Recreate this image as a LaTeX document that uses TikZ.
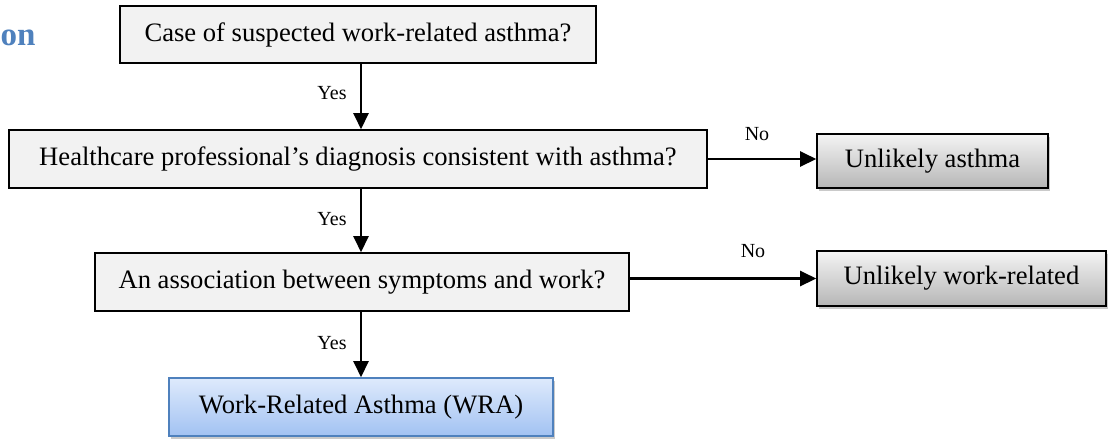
\documentclass[tikz,border=0pt]{standalone}
\usepackage{fontspec}
\setmainfont{Liberation Serif}
\usetikzlibrary{arrows.meta,shadows}
\definecolor{titleblue}{RGB}{79,129,189}
\definecolor{qfill}{RGB}{242,242,242}
\definecolor{gtop}{RGB}{244,244,244}
\definecolor{gbot}{RGB}{182,182,182}
\definecolor{btop}{RGB}{222,234,252}
\definecolor{bbot}{RGB}{162,194,242}
\definecolor{bedge}{RGB}{79,129,189}
\tikzset{
  qbox/.style={draw=black, line width=1.6pt, fill=qfill, inner sep=0pt,
    font=\fontsize{26.6}{30}\selectfont},
  outbox/.style={draw=black, line width=1.6pt, top color=gtop, bottom color=gbot,
    inner sep=0pt, font=\fontsize{26.6}{30}\selectfont,
    drop shadow={shadow xshift=2pt, shadow yshift=-3pt, opacity=0.35, fill=black!60}},
  wrabox/.style={draw=bedge, line width=1.6pt, top color=btop, bottom color=bbot,
    inner sep=0pt, font=\fontsize{26.6}{30}\selectfont,
    drop shadow={shadow xshift=2pt, shadow yshift=-3pt, opacity=0.35, fill=black!60}},
  arr/.style={line width=2.4pt, -{Triangle[width=15pt,length=16pt]}},
  lbl/.style={font=\fontsize{20}{22}\selectfont, inner sep=0pt}
}
\begin{document}
\begin{tikzpicture}[x=1pt,y=-1pt]
\useasboundingbox (0,0) rectangle (1115,440);
\node[anchor=base west, inner sep=0pt, text=titleblue,
  font=\fontsize{33}{35}\selectfont\bfseries] (title) at (0.5,45) {on};

\node[qbox, minimum width=476pt, minimum height=57pt] (b1) at (358,34.5) {Case of suspected work-related asthma?};
\node[qbox, minimum width=698pt, minimum height=58pt] (b2) at (358,159) {Healthcare professional’s diagnosis consistent with asthma?};
\node[qbox, minimum width=534pt, minimum height=58pt] (b3) at (362,282) {An association between symptoms and work?};
\node[wrabox, minimum width=384pt, minimum height=58pt] (wra) at (361,407) {Work-Related Asthma (WRA)};
\node[outbox, minimum width=231pt, minimum height=54pt] (ua) at (932.5,161) {Unlikely asthma};
\node[outbox, minimum width=289pt, minimum height=55pt] (uw) at (961.5,278.5) {Unlikely work-related};

\draw[arr] (b1.south -| wra.north) -- (b2.north -| wra.north);
\draw[arr] (b2.south -| wra.north) -- (b3.north -| wra.north);
\draw[arr] (b3.south -| wra.north) -- (wra.north);
\draw[arr] (b2.east) -- (b2.east -| ua.west);
\draw[arr] (uw.west -| b3.east) -- (uw.west);

\node[lbl] (y1) at (332,93) {Yes};
\node[lbl] (y2) at (332,219) {Yes};
\node[lbl] (y3) at (332,343) {Yes};
\node[lbl] (n1) at (757,134) {No};
\node[lbl] (n2) at (753,251) {No};
\end{tikzpicture}
\end{document}
